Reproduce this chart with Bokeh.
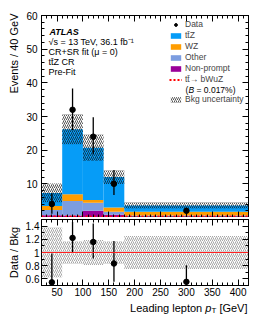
import numpy as np
from bokeh.plotting import figure
from bokeh.models import (Label, Legend, LegendItem, LinearAxis, FixedTicker, Span,
                          CustomJSTickFormatter, CustomLabelingPolicy, Range1d)
from bokeh.layouts import column, row
from bokeh.embed import file_html
from bokeh.resources import INLINE

# ---------------- data ----------------
bin_edges = [20, 60, 100, 140, 180, 420]
nonprompt = [0.7, 0.6, 2.0, 0.8, 0.3]
other = [1.5, 4.3, 2.4, 0.9, 0.3]
wz = [1.2, 2.0, 0.8, 1.3, 1.1]
ttz = [3.9, 19.3, 15.5, 9.0, 1.9]
signal = [0.3, 0.3, 0.3, 0.3, 0.3]
bkg_unc_frac = [0.38, 0.17, 0.19, 0.17, 0.25]
data = [4.0, 32.0, 24.0, 10.0, 2.0]
data_err_lo = [2.9, 6.0, 5.2, 3.3, 0.7]
data_err_hi = [3.2, 6.3, 5.8, 4.1, 0.9]

x_ticks = [50, 100, 150, 200, 250, 300, 350, 400]
x_minor = list(range(20, 421, 10))
y_ticks = [10, 20, 30, 40, 50, 60]
y_minor = list(range(0, 61, 2))
r_ticks = [0.6, 0.8, 1.0, 1.2, 1.4]
r_minor = [0.5, 0.7, 0.9, 1.1, 1.3, 1.5]

# ---------------- styles / layout constants ----------------
FONT = "Liberation Sans"
C_TTZ = "#069cf7"
C_WZ = "#ff9d00"
C_OTHER = "#7c9de0"
C_NP = "#9a0099"
C_SIG = "#ff0000"

LEFT_W = 22
FRAME_W = 207
P1_TOP, P1_FRAME, P1_BOT = 15, 202, 0
P2_TOP, P2_FRAME, P2_BOT = 2, 66, 14
H_TOTAL = P1_TOP + P1_FRAME + P1_BOT + P2_TOP + P2_FRAME + P2_BOT

lo = np.array(bin_edges[:-1], dtype=float)
hi = np.array(bin_edges[1:], dtype=float)
centers = (lo + hi) / 2
data_a = np.array(data)
elo = np.array(data_err_lo)
ehi = np.array(data_err_hi)
unc = np.array(bkg_unc_frac)


def style_axis(ax, labels=True):
    ax.major_tick_in = 6
    ax.major_tick_out = 0
    ax.minor_tick_in = 3
    ax.minor_tick_out = 0
    ax.axis_line_color = "black"
    ax.major_tick_line_color = "black"
    ax.minor_tick_line_color = "black"
    ax.major_label_text_font = FONT
    ax.major_label_text_color = "black"
    ax.major_label_text_font_size = "10px"
    ax.major_label_standoff = 3
    if not labels:
        ax.major_label_policy = CustomLabelingPolicy(
            code="for (const i of indices) { indices.unset(i) }")
        ax.major_label_text_font_size = "0px"
        ax.major_label_standoff = 0


def base_fig(frame_h, yr, border_top, border_bottom):
    f = figure(frame_width=FRAME_W, frame_height=frame_h,
               x_range=Range1d(20, 420), y_range=yr,
               output_backend="svg", toolbar_location=None,
               min_border_left=40 - LEFT_W, min_border_right=12,
               min_border_top=border_top, min_border_bottom=border_bottom)
    f.xgrid.visible = False
    f.ygrid.visible = False
    f.outline_line_color = "black"
    f.background_fill_color = "white"
    f.border_fill_color = "white"
    return f


def text_fig(w, h):
    f = figure(frame_width=w, frame_height=h, x_range=Range1d(0, w), y_range=Range1d(0, h),
               output_backend="svg", toolbar_location=None,
               x_axis_location=None, y_axis_location=None, min_border=0)
    f.xgrid.visible = False
    f.ygrid.visible = False
    f.outline_line_color = None
    f.background_fill_color = "white"
    f.border_fill_color = "white"
    return f


# ---------------- main panel ----------------
p1 = base_fig(P1_FRAME, Range1d(0, 60), P1_TOP, P1_BOT)

bottom = np.zeros(len(lo))
stack_renderers = {}
for name, vals, col in [("Non-prompt", nonprompt, C_NP), ("Other", other, C_OTHER),
                        ("WZ", wz, C_WZ), ("ttZ", ttz, C_TTZ)]:
    top = bottom + np.array(vals)
    r = p1.quad(left=lo, right=hi, bottom=bottom, top=top,
                fill_color=col, line_color=None)
    stack_renderers[name] = r
    bottom = top
bkg = bottom

band = p1.quad(left=lo, right=hi, bottom=bkg * (1 - unc), top=bkg * (1 + unc),
               fill_alpha=0, line_color=None, hatch_pattern="/",
               hatch_color="#111111", hatch_alpha=0.9, hatch_scale=4, hatch_weight=0.8)

sig = p1.step(x=list(bin_edges), y=list(signal) + [signal[-1]], mode="after",
              line_color=C_SIG, line_width=2, line_dash="2 2")

p1.segment(x0=centers, y0=data_a - elo, x1=centers, y1=data_a + ehi,
           line_color="black", line_width=1.3)
dots = p1.scatter(x=centers, y=data_a, size=5.5, fill_color="black", line_color="black")

style_axis(p1.xaxis[0], labels=False)
p1.xaxis[0].ticker = FixedTicker(ticks=x_ticks, minor_ticks=x_minor)
style_axis(p1.yaxis[0])
p1.yaxis[0].ticker = FixedTicker(ticks=y_ticks, minor_ticks=y_minor)
p1.yaxis[0].major_label_standoff = 4

top_ax = LinearAxis(ticker=FixedTicker(ticks=x_ticks, minor_ticks=x_minor))
style_axis(top_ax, labels=False)
p1.add_layout(top_ax, "above")
right_ax = LinearAxis(ticker=FixedTicker(ticks=y_ticks, minor_ticks=y_minor))
style_axis(right_ax, labels=False)
p1.add_layout(right_ax, "right")

# texts upper left
txt = dict(x_units="screen", y_units="screen", text_font=FONT, text_font_size="9px",
           text_color="black", text_baseline="middle")
p1.add_layout(Label(x=8, y=186, text="ATLAS", text_font_style="bold italic", **txt))
p1.add_layout(Label(x=7, y=175.5, text="√s = 13 TeV, 36.1 fb⁻¹", **txt))
p1.add_layout(Label(x=7, y=165.5, text="CR+SR fit (μ = 0)", **txt))
p1.add_layout(Label(x=7, y=155.5, text="tt̄Z CR", **txt))
p1.add_layout(Label(x=7, y=145.5, text="Pre-Fit", **txt))

# legend
leg_style = dict(label_text_font=FONT, label_text_font_size="8.5px", label_height=9,
                 glyph_height=7, glyph_width=13, label_standoff=3, spacing=1,
                 padding=0, margin=0, border_line_color=None, background_fill_alpha=0)
leg1 = Legend(items=[LegendItem(label="Data", renderers=[dots]),
                     LegendItem(label="tt̄Z", renderers=[stack_renderers["ttZ"]]),
                     LegendItem(label="WZ", renderers=[stack_renderers["WZ"]]),
                     LegendItem(label="Other", renderers=[stack_renderers["Other"]]),
                     LegendItem(label="Non-prompt", renderers=[stack_renderers["Non-prompt"]]),
                     LegendItem(label="tt̄→ bWuZ", renderers=[sig])],
              location=(128, 133), **leg_style)
p1.add_layout(leg1, "center")
leg2 = Legend(items=[LegendItem(label="Bkg uncertainty", renderers=[band])],
              location=(128, 113), **leg_style)
p1.add_layout(leg2, "center")
ltxt = dict(x_units="screen", y_units="screen", text_font=FONT, text_font_size="8.5px",
            text_color="black", text_baseline="middle")
p1.add_layout(Label(x=144, y=128, text="(", **ltxt))
p1.add_layout(Label(x=147, y=128, text="B", text_font_style="italic", **ltxt))
p1.add_layout(Label(x=155, y=128, text="= 0.017%)", **ltxt))

# ---------------- ratio panel ----------------
p2 = base_fig(P2_FRAME, Range1d(0.5, 1.5), P2_TOP, P2_BOT)

p2.quad(left=lo, right=hi, bottom=1 - unc, top=1 + unc, fill_alpha=0, line_color=None,
        hatch_pattern="/", hatch_color="#555555", hatch_alpha=0.75, hatch_scale=4,
        hatch_weight=0.7)
p2.add_layout(Span(location=1.0, dimension="width", line_color="#ff2020", line_width=1))
ratio = data_a / bkg
p2.segment(x0=centers, y0=(data_a - elo) / bkg, x1=centers, y1=(data_a + ehi) / bkg,
           line_color="black", line_width=1.3)
p2.scatter(x=centers, y=ratio, size=5.5, fill_color="black", line_color="black")

style_axis(p2.xaxis[0])
p2.xaxis[0].ticker = FixedTicker(ticks=x_ticks, minor_ticks=x_minor)
p2.xaxis[0].major_label_standoff = 2
style_axis(p2.yaxis[0])
p2.yaxis[0].ticker = FixedTicker(ticks=r_ticks, minor_ticks=r_minor)
p2.yaxis[0].major_label_standoff = 2
p2.yaxis[0].formatter = CustomJSTickFormatter(
    code="return Math.abs(tick - 1) < 1e-6 ? '1' : tick.toFixed(1);")
top2 = LinearAxis(ticker=FixedTicker(ticks=x_ticks, minor_ticks=x_minor))
style_axis(top2, labels=False)
p2.add_layout(top2, "above")
right2 = LinearAxis(ticker=FixedTicker(ticks=r_ticks, minor_ticks=r_minor))
style_axis(right2, labels=False)
p2.add_layout(right2, "right")

# ---------------- axis titles (own strips, so nothing is clipped) ----------------
left_fig = text_fig(LEFT_W, H_TOTAL)
ttl = dict(text_font=FONT, text_font_size="11px", text_color="black",
           text_baseline="middle", angle=np.pi / 2, angle_units="rad")
left_fig.add_layout(Label(x=13, y=H_TOTAL - 13, text="Events / 40 GeV",
                          text_align="right", **ttl))
left_fig.add_layout(Label(x=13, y=H_TOTAL - (P1_TOP + P1_FRAME + P1_BOT + P2_TOP + P2_FRAME / 2),
                          text="Data / Bkg", text_align="center", **ttl))

BOT_H = 20
BOT_W = LEFT_W + (40 - LEFT_W) + FRAME_W + 12
bottom_fig = text_fig(BOT_W, BOT_H)
xr = 40 + FRAME_W  # right edge of the frames
bt = dict(text_font=FONT, text_color="black", text_align="right", text_baseline="middle")
bottom_fig.add_layout(Label(x=xr, y=12, text="[GeV]", text_font_size="11px", **bt))
bottom_fig.add_layout(Label(x=xr - 31.2, y=9, text="T", text_font_size="8px", **bt))
bottom_fig.add_layout(Label(x=xr - 36.1, y=12, text="p", text_font_size="11px",
                            text_font_style="italic", **bt))
bottom_fig.add_layout(Label(x=xr - 45.3, y=12, text="Leading lepton",
                            text_font_size="11px", **bt))

layout = column(row(left_fig, column(p1, p2, spacing=0), spacing=0), bottom_fig, spacing=0)
open("out.html", "w").write(file_html(layout, INLINE))
